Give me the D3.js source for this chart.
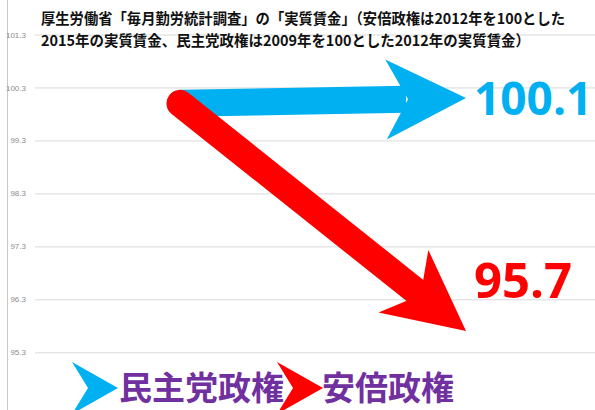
<!DOCTYPE html>
<html>
<head>
<meta charset="utf-8">
<script src="https://cdn.jsdelivr.net/npm/d3@7"></script>
<style>
  html, body { margin: 0; padding: 0; background: #fff; }
  svg { display: block; }
  .tick text { font-family: "Liberation Sans", Arial, sans-serif; }
</style>
</head>
<body>
<div id="chart"></div>
<script>
// 実質賃金（基準年 = 100）
const stages = ['基準年', '3年後'];
const seriesNames = ['民主党政権', '安倍政権'];
const startValues = [100, 100];
const endValues = [100.1, 95.7];
const yTicks = [95.3, 96.3, 97.3, 98.3, 99.3, 100.3, 101.3];
const titleLines = [
  '厚生労働省「毎月勤労統計調査」の「実質賃金」（安倍政権は2012年を100とした',
  '2015年の実質賃金、民主党政権は2009年を100とした2012年の実質賃金）'
];

const width = 595;
const height = 410;
const colors = ['#00b0f0', '#ff0000'];
const purple = '#7030a0';

const svg = d3.select('#chart')
  .append('svg')
  .attr('width', width)
  .attr('height', height);

const x = d3.scalePoint().domain(stages).range([180, 466]);
const y = d3.scaleLinear().domain([95.3, 101.3]).range([352.3, 34.5]);

// left frame line
svg.append('line')
  .attr('x1', 7.5).attr('x2', 7.5)
  .attr('y1', 0).attr('y2', height)
  .attr('stroke', '#c8c8c8');

// gridlines + tick labels
svg.append('g')
  .attr('transform', 'translate(35,0)')
  .call(
    d3.axisLeft(y)
      .tickValues(yTicks)
      .tickSize(-(width - 35))
      .tickPadding(9)
      .tickFormat(d3.format('.1f'))
  )
  .call(g => g.select('.domain').remove())
  .call(g => g.selectAll('.tick line').attr('stroke', '#d9d9d9'))
  .call(g => g.selectAll('.tick text')
    .attr('fill', '#8c8c8c')
    .attr('font-size', 8));

// title
svg.append('g')
  .selectAll('text')
  .data(titleLines)
  .join('text')
  .attr('x', 41)
  .attr('y', (d, i) => 24 + i * 22)
  .attr('textLength', (d, i) => (i === 0 ? 524 : 489))
  .attr('lengthAdjust', 'spacingAndGlyphs')
  .attr('font-family', '"Noto Sans CJK JP", sans-serif')
  .attr('font-weight', 'bold')
  .attr('font-size', 15)
  .attr('fill', '#111')
  .text(d => d);

// notched arrowhead, tip at (0,0) pointing along +x
function headPath(len, half, notch) {
  return `M0,0 L${-len},${-half} L${-notch},0 L${-len},${half} Z`;
}

const shaftWidth = 27;
const headLen = 80;
const headHalf = 40;
const headNotch = 58;

const arrows = seriesNames.map((name, i) => {
  const x0 = x(stages[0]);
  const y0 = y(startValues[i]);
  const x1 = x(stages[1]);
  const y1 = y(endValues[i]);
  const angle = Math.atan2(y1 - y0, x1 - x0);
  return { name, i, x0, y0, x1, y1, angle };
});

const arrowG = svg.append('g')
  .selectAll('g')
  .data(arrows)
  .join('g');

arrowG.append('line')
  .attr('x1', d => d.x0)
  .attr('y1', d => d.y0)
  .attr('x2', d => d.x1 - 60 * Math.cos(d.angle))
  .attr('y2', d => d.y1 - 60 * Math.sin(d.angle))
  .attr('stroke', d => colors[d.i])
  .attr('stroke-width', shaftWidth)
  .attr('stroke-linecap', d => (d.i === 1 ? 'round' : 'butt'));

arrowG.append('path')
  .attr('d', headPath(headLen, headHalf, headNotch))
  .attr('transform', d => `translate(${d.x1},${d.y1}) rotate(${d.angle * 180 / Math.PI})`)
  .attr('fill', d => colors[d.i]);

// end value labels
svg.append('g')
  .selectAll('text')
  .data(arrows)
  .join('text')
  .attr('x', 474)
  .attr('y', d => (d.i === 0 ? 115 : 298))
  .attr('font-family', '"Open Sans", sans-serif')
  .attr('font-weight', 'bold')
  .attr('font-size', d => (d.i === 0 ? 46 : 49))
  .attr('fill', d => colors[d.i])
  .text(d => d3.format('.1f')(endValues[d.i]));

// legend
const legendX = [72, 277];
const legendText = [119, 322];
const legend = svg.append('g')
  .selectAll('g')
  .data(seriesNames)
  .join('g');

legend.append('path')
  .attr('d', 'M0,-26 L46,0 L0,26 L16,0 Z')
  .attr('transform', (d, i) => `translate(${legendX[i]},388)`)
  .attr('fill', (d, i) => colors[i]);

legend.append('text')
  .attr('x', (d, i) => legendText[i])
  .attr('y', 400)
  .attr('font-family', '"Noto Sans CJK JP", sans-serif')
  .attr('font-weight', 'bold')
  .attr('font-size', 33)
  .attr('fill', purple)
  .text(d => d);
</script>
</body>
</html>
